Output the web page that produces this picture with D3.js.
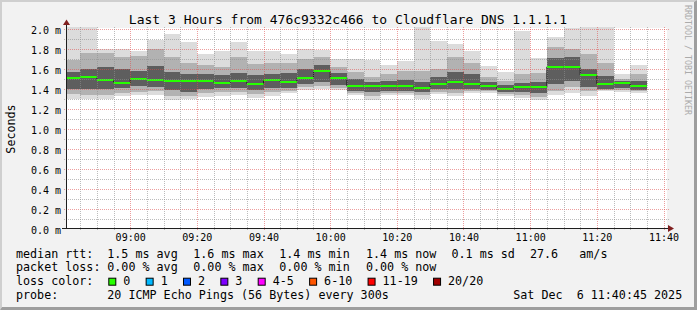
<!DOCTYPE html>
<html>
<head>
<meta charset="utf-8">
<style>
  body { margin: 0; background: #fff; }
  svg text { font-family: "DejaVu Sans Mono", monospace; fill: #000; }
</style>
<title>SmokePing - Cloudflare DNS 1.1.1.1</title>
</head>
<body>
<div id="chart"></div>
<script src="https://cdn.jsdelivr.net/npm/d3@7"></script>
<script>

// sample end times (5 min steps), values in ms
var sampleTimes = ["08:45","08:50","08:55","09:00","09:05","09:10","09:15","09:20","09:25","09:30",
                   "09:35","09:40","09:45","09:50","09:55","10:00","10:05","10:10","10:15","10:20",
                   "10:25","10:30","10:35","10:40","10:45","10:50","10:55","11:00","11:05","11:10",
                   "11:15","11:20","11:25","11:30","11:35"];
var rttMax    = [2.05,2.05,1.80,1.80,1.78,1.89,1.95,1.87,1.75,1.78,1.87,1.78,1.78,1.75,1.80,1.79,1.70,1.70,1.69,1.64,
                 1.68,2.05,1.88,1.85,1.78,1.63,1.57,1.98,1.71,1.92,2.01,2.05,2.05,1.55,1.64];
var rttHi2    = [1.69,1.76,1.76,1.72,1.73,1.80,1.72,1.66,1.64,1.62,1.72,1.65,1.66,1.66,1.70,1.72,1.62,1.57,1.52,1.55,
                 1.58,1.58,1.60,1.72,1.66,1.52,1.48,1.55,1.56,1.82,1.80,1.75,1.66,1.50,1.55];
var rttHi1    = [1.57,1.60,1.62,1.60,1.58,1.63,1.57,1.55,1.55,1.54,1.56,1.54,1.55,1.56,1.60,1.64,1.56,1.50,1.47,1.48,
                 1.49,1.47,1.52,1.57,1.55,1.47,1.44,1.46,1.47,1.71,1.72,1.60,1.53,1.48,1.48];
var rttMedian = [1.51,1.52,1.49,1.46,1.50,1.49,1.48,1.48,1.48,1.46,1.48,1.45,1.49,1.47,1.51,1.58,1.51,1.43,1.43,1.43,
                 1.43,1.41,1.45,1.47,1.45,1.43,1.40,1.42,1.42,1.62,1.62,1.54,1.45,1.46,1.43];
var rttLo1    = [1.40,1.40,1.40,1.41,1.43,1.42,1.39,1.37,1.40,1.41,1.41,1.39,1.41,1.41,1.45,1.47,1.44,1.38,1.37,1.38,
                 1.38,1.37,1.40,1.40,1.40,1.39,1.37,1.37,1.36,1.45,1.48,1.42,1.40,1.41,1.39];
var rttLo2    = [1.35,1.34,1.34,1.36,1.37,1.38,1.33,1.33,1.36,1.37,1.37,1.35,1.37,1.38,1.42,1.43,1.41,1.36,1.33,1.36,
                 1.36,1.34,1.37,1.36,1.38,1.38,1.35,1.34,1.32,1.38,1.42,1.38,1.39,1.39,1.38];
var rttMin    = [1.30,1.30,1.30,1.33,1.34,1.34,1.29,1.30,1.32,1.33,1.34,1.31,1.33,1.36,1.39,1.40,1.39,1.34,1.29,1.34,
                 1.34,1.30,1.35,1.33,1.36,1.36,1.33,1.31,1.29,1.34,1.36,1.33,1.38,1.37,1.36];

var xTickLabels = ["09:00","09:20","09:40","10:00","10:20","10:40","11:00","11:20","11:40"];
var yTickValues = [0.0,0.2,0.4,0.6,0.8,1.0,1.2,1.4,1.6,1.8,2.0];

var medianStats = ["1.5 ms avg","1.6 ms max","1.4 ms min","1.4 ms now","0.1 ms sd","27.6","am/s"];
var lossStats   = ["0.00 % avg","0.00 % max","0.00 % min","0.00 % now"];
var lossLabels  = ["0","1","2","3","4-5","6-10","11-19","20/20"];
var lossColors  = ["#26ff00","#00b8ff","#0059ff","#7e00ff","#ff00ff","#ff5500","#ff0000","#a10000"];

var W = 697, H = 310;
var day = "2025-12-06 ";
var parseT = d3.timeParse("%Y-%m-%d %H:%M:%S");
var tStart = parseT(day + "08:40:45"), tEnd = parseT(day + "11:40:45");

var x = d3.scaleTime().domain([tStart, tEnd]).range([66, 666]);
var y = d3.scaleLinear().domain([0, 2]).range([229, 29]);

var svg = d3.select("#chart").append("svg")
    .attr("width", W).attr("height", H);

// background + 3d border
svg.append("rect").attr("width", W).attr("height", H).attr("fill", "#f2f2f2");
svg.append("path").attr("fill", "#cfcfcf")
    .attr("d", `M0,0H${W}L${W-3},2H2V${H-3}L0,${H}Z`);
svg.append("path").attr("fill", "#9e9e9e")
    .attr("d", `M${W},0V${H}H0L2,${H-3}H${W-3}V2Z`);

// canvas
svg.append("rect").attr("x", 66).attr("y", 28).attr("width", 601).attr("height", 201).attr("fill", "#fff");

svg.append("clipPath").attr("id", "plotclip")
  .append("rect").attr("x", 66).attr("y", 27).attr("width", 601).attr("height", 202);

var cols = sampleTimes.map(function(s, i) {
    var t1 = parseT(day + s + ":00");
    var t0 = d3.timeMinute.offset(t1, -5);
    return {
        x0: Math.max(x(t0), x(tStart)), x1: x(t1),
        max: rttMax[i], hi2: rttHi2[i], hi1: rttHi1[i], med: rttMedian[i],
        lo1: rttLo1[i], lo2: rttLo2[i], min: rttMin[i]
    };
});

var plotG = svg.append("g").attr("clip-path", "url(#plotclip)");

// smoke, outer to inner
var layers = [["min", "max", "#dcdcdc"], ["lo2", "hi2", "#b2b2b2"], ["lo1", "hi1", "#5e5e5e"]];
layers.forEach(function(l) {
    plotG.append("g").selectAll("rect")
        .data(cols).enter().append("rect")
        .attr("x", d => d.x0)
        .attr("width", d => d.x1 - d.x0)
        .attr("y", d => y(d[l[1]]))
        .attr("height", d => y(d[l[0]]) - y(d[l[1]]))
        .attr("fill", l[2])
        .attr("shape-rendering", "crispEdges");
});

// grid (drawn over the smoke, like rrdtool)
var gridG = svg.append("g").attr("stroke-dasharray", "1,1").attr("stroke-width", 1);
d3.range(1, 21).forEach(function(k) {
    var v = k / 10, yy = Math.round(y(v)) + 0.5;
    var major = k % 2 === 0;
    gridG.append("line")
        .attr("x1", 64).attr("x2", 669).attr("y1", yy).attr("y2", yy)
        .attr("stroke", major ? "rgba(222,79,79,0.55)" : "rgba(143,143,143,0.6)");
});
d3.timeMinute.every(5).range(tStart, tEnd).forEach(function(t) {
    var xx = Math.round(x(t)) + 0.5;
    var major = t.getMinutes() % 20 === 0;
    gridG.append("line")
        .attr("x1", xx).attr("x2", xx).attr("y1", 27).attr("y2", 231)
        .attr("stroke", major ? "rgba(222,79,79,0.55)" : "rgba(143,143,143,0.6)");
});

// median: dark step line, then loss-coloured blocks
var medPts = [];
cols.forEach(function(d) { medPts.push([d.x0, y(d.med)], [d.x1, y(d.med)]); });
plotG.append("path")
    .attr("d", d3.line()(medPts))
    .attr("fill", "none").attr("stroke", "#202020").attr("stroke-width", 1);
plotG.append("g").selectAll("rect")
    .data(cols).enter().append("rect")
    .attr("x", d => d.x0)
    .attr("width", d => d.x1 - d.x0)
    .attr("y", d => y(d.med) - 1)
    .attr("height", 2)
    .attr("fill", lossColors[0]);

// axes lines + arrows
svg.append("line").attr("x1", 62).attr("x2", 669).attr("y1", 228.5).attr("y2", 228.5)
    .attr("stroke", "#1f1f1f");
svg.append("line").attr("x1", 66.5).attr("x2", 66.5).attr("y1", 229).attr("y2", 24)
    .attr("stroke", "#1f1f1f");
svg.append("path").attr("fill", "#801f1f").attr("d", "M668,225L674,228.5L668,232Z");
svg.append("path").attr("fill", "#801f1f").attr("d", "M63,25L66.5,19.5L70,25Z");

// tick labels
var fmtTime = d3.timeFormat("%H:%M");
var xAxis = d3.axisBottom(x)
    .tickValues(xTickLabels.map(s => parseT(day + s + ":00")))
    .tickFormat(fmtTime).tickSize(0).tickPadding(4.5);
svg.append("g").attr("transform", "translate(0,229)").call(xAxis)
    .call(g => g.select(".domain").remove())
    .attr("font-family", "DejaVu Sans Mono").attr("font-size", 10);

var yAxis = d3.axisLeft(y).tickValues(yTickValues)
    .tickFormat(d => d.toFixed(1) + " m").tickSize(0).tickPadding(5);
svg.append("g").attr("transform", "translate(66,0.8)").call(yAxis)
    .call(g => g.select(".domain").remove())
    .attr("font-family", "DejaVu Sans Mono").attr("font-size", 10);

// title and labels
svg.append("text").attr("x", 348).attr("y", 23.5).attr("text-anchor", "middle")
    .attr("font-size", 13).text("Last 3 Hours from 476c9332c466 to Cloudflare DNS 1.1.1.1");
svg.append("text").attr("transform", "translate(15,129) rotate(-90)").attr("text-anchor", "middle")
    .attr("font-size", 11.7).text("Seconds");
svg.append("text").attr("transform", "translate(684.5,5) rotate(90)")
    .attr("font-size", 8.3).style("fill", "#ababab").text("RRDTOOL / TOBI OETIKER");

// legend
var lf = 11.7, rows = [257.5, 271.3, 285.2, 299];
function ltext(xx, yy, s) {
    return svg.append("text").attr("x", xx).attr("y", yy).attr("font-size", lf)
        .attr("xml:space", "preserve").style("white-space", "pre").text(s);
}
ltext(16, rows[0], "median rtt:");
var medX = [107.3, 193.3, 279.3, 366, 451.5, 530, 579.3];
medianStats.forEach((s, i) => ltext(medX[i], rows[0], s));

ltext(16, rows[1], "packet loss:");
lossStats.forEach((s, i) => ltext(medX[i], rows[1], s));

ltext(16, rows[2], "loss color:");
var sx = 108.3;
lossLabels.forEach(function(s, i) {
    svg.append("rect").attr("x", sx + 0.5).attr("y", rows[2] - 7).attr("width", 7).attr("height", 7)
        .attr("fill", lossColors[i]).attr("stroke", "#000").attr("stroke-width", 1);
    var t = ltext(sx + 15, rows[2], s);
    sx = sx + 15 + t.node().getComputedTextLength() + 15.3;
});

ltext(16, rows[3], "probe:");
ltext(107.3, rows[3], "20 ICMP Echo Pings (56 Bytes) every 300s");
ltext(513.3, rows[3], "Sat Dec  6 11:40:45 2025");

</script>
</body>
</html>
